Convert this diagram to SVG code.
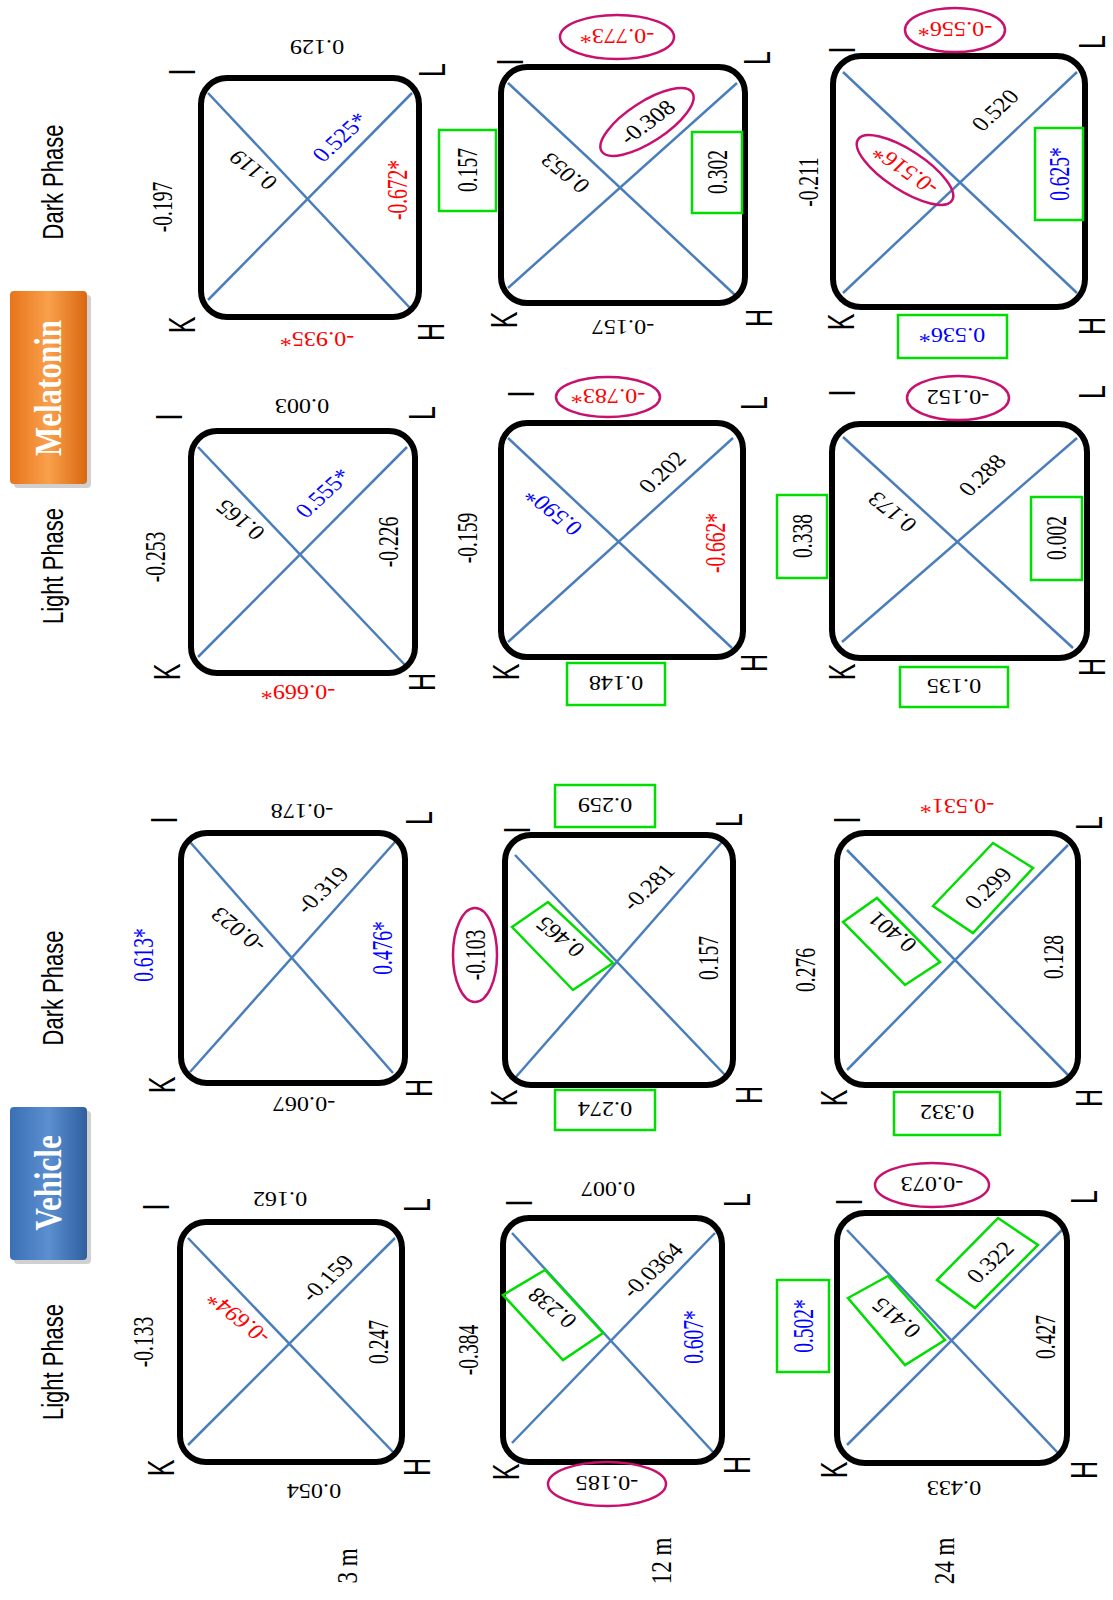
<svg xmlns="http://www.w3.org/2000/svg" width="1113" height="1600" viewBox="0 0 1113 1600">
<style>
.box{fill:none;stroke:#000;stroke-width:6}
.diag{stroke:#4a7ebb;stroke-width:2.5}
.n{font-family:"Liberation Serif","Times New Roman",serif;text-anchor:middle;dominant-baseline:central;fill:#000}
.v{font-size:19.5px}
.h{font-size:22px}
.d{font-size:21px}
.blue{fill:#0000ff}
.red{fill:#ff0000}
.ell{fill:none;stroke:#c8106e;stroke-width:2.5}
.grn{fill:none;stroke:#00dd00;stroke-width:2.5}
.c{font-family:"Liberation Sans",Arial,sans-serif;font-size:25px;text-anchor:middle;dominant-baseline:central;fill:#000}
.hd{font-family:"Liberation Sans",Arial,sans-serif;font-size:22px;text-anchor:middle;dominant-baseline:central;fill:#000}
.rl{font-family:"Liberation Serif","Times New Roman",serif;font-size:23px;text-anchor:middle;dominant-baseline:central;fill:#000}
.btn{font-family:"Liberation Serif","Times New Roman",serif;font-size:31px;font-weight:bold;text-anchor:middle;dominant-baseline:central;fill:#fff}
</style>
<defs>
<linearGradient id="gBlue" x1="0" y1="0" x2="1" y2="0">
<stop offset="0" stop-color="#3a6fb5"/><stop offset="0.5" stop-color="#5b8fd0"/><stop offset="1" stop-color="#2f5f9f"/>
</linearGradient>
<linearGradient id="gOrange" x1="0" y1="0" x2="1" y2="0">
<stop offset="0" stop-color="#e8741a"/><stop offset="0.5" stop-color="#f9a04c"/><stop offset="1" stop-color="#d9680f"/>
</linearGradient>
</defs>
<rect width="1113" height="1600" fill="#fff"/>

<g id="headers">
<text class="hd" transform="translate(53 182) scale(1.3 1) rotate(-90)">Dark Phase</text>
<text class="hd" transform="translate(53 566) scale(1.3 1) rotate(-90)">Light Phase</text>
<text class="hd" transform="translate(53 988) scale(1.3 1) rotate(-90)">Dark Phase</text>
<text class="hd" transform="translate(53 1362) scale(1.3 1) rotate(-90)">Light Phase</text>
</g>
<g id="btn-melatonin">
<rect x="14" y="295" width="77" height="193" rx="4" fill="#b0b0b0" opacity="0.6"/>
<rect x="10" y="291" width="77" height="193" rx="4" fill="url(#gOrange)"/>
<text class="btn" transform="translate(48 388) scale(1.25 1) rotate(-90)">Melatonin</text>
</g>
<g id="btn-vehicle">
<rect x="14" y="1111" width="77" height="153" rx="4" fill="#b0b0b0" opacity="0.6"/>
<rect x="10" y="1107" width="77" height="153" rx="4" fill="url(#gBlue)"/>
<text class="btn" transform="translate(48 1183) scale(1.25 1) rotate(-90)">Vehicle</text>
</g>
<g id="row-labels">
<text class="rl" transform="translate(347 1566) scale(1.3 1) rotate(-90)">3 m</text>
<text class="rl" transform="translate(661 1561) scale(1.3 1) rotate(-90)">12 m</text>
<text class="rl" transform="translate(944 1561) scale(1.3 1) rotate(-90)">24 m</text>
</g>

<g id="connectors">
<line class="diag" x1="208" y1="93" x2="410" y2="308"/><line class="diag" x1="208" y1="300" x2="412" y2="93"/>
<line class="diag" x1="508" y1="83" x2="735" y2="295"/><line class="diag" x1="508" y1="288" x2="737" y2="83"/>
<line class="diag" x1="843" y1="72" x2="1077" y2="293"/><line class="diag" x1="843" y1="293" x2="1077" y2="72"/>
<line class="diag" x1="198" y1="447" x2="405" y2="665"/><line class="diag" x1="198" y1="657" x2="407" y2="447"/>
<line class="diag" x1="508" y1="438" x2="732" y2="648"/><line class="diag" x1="508" y1="642" x2="733" y2="438"/>
<line class="diag" x1="843" y1="437" x2="1073" y2="648"/><line class="diag" x1="842" y1="642" x2="1077" y2="438"/>
<line class="diag" x1="190" y1="842" x2="393" y2="1073"/><line class="diag" x1="190" y1="1072" x2="395" y2="842"/>
<line class="diag" x1="515" y1="855" x2="725" y2="1075"/><line class="diag" x1="515" y1="1078" x2="722" y2="842"/>
<line class="diag" x1="847" y1="850" x2="1068" y2="1075"/><line class="diag" x1="847" y1="1070" x2="1068" y2="845"/>
<line class="diag" x1="188" y1="1238" x2="393" y2="1452"/><line class="diag" x1="188" y1="1445" x2="395" y2="1238"/>
<line class="diag" x1="512" y1="1233" x2="713" y2="1452"/><line class="diag" x1="512" y1="1443" x2="715" y2="1233"/>
<line class="diag" x1="847" y1="1230" x2="1058" y2="1453"/><line class="diag" x1="847" y1="1445" x2="1062" y2="1230"/>
</g>

<!-- Melatonin Dark 3m -->
<g id="mel-dark-3m">
<rect class="box" x="201" y="78" width="218" height="239" rx="26"/>
<text class="c" transform="translate(183 72) scale(1.45 1) rotate(-90)">I</text>
<text class="c" transform="translate(433 70) scale(1.45 1) rotate(-90)">L</text>
<text class="c" transform="translate(183 325) scale(1.45 1) rotate(-90)">K</text>
<text class="c" transform="translate(432 332) scale(1.45 1) rotate(-90)">H</text>
<text class="n h" transform="translate(317 48) scale(1.1 1) rotate(180)">0.129</text>
<text class="n h red" transform="translate(317 340) scale(1.1 1) rotate(180)">-0.935*</text>
<text class="n v" transform="translate(162 207) scale(1.5 1) rotate(-90)">-0.197</text>
<text class="n v red" transform="translate(397 190) scale(1.5 1) rotate(-90)">-0.672*</text>
<text class="n d" transform="translate(253 170) scale(1.2 1) rotate(224)">0.119</text>
<text class="n d blue" transform="translate(340 137) scale(1.2 1) rotate(-48)">0.525*</text>
</g>

<!-- Melatonin Dark 12m -->
<g id="mel-dark-12m">
<rect class="box" x="501" y="67" width="244" height="236" rx="26"/>
<text class="c" transform="translate(511 62) scale(1.45 1) rotate(-90)">I</text>
<text class="c" transform="translate(758 58) scale(1.45 1) rotate(-90)">L</text>
<text class="c" transform="translate(505 320) scale(1.45 1) rotate(-90)">K</text>
<text class="c" transform="translate(760 318) scale(1.45 1) rotate(-90)">H</text>
<ellipse class="ell" cx="617" cy="37" rx="57" ry="22"/>
<text class="n h red" transform="translate(617 37) scale(1.1 1) rotate(180)">-0.773*</text>
<text class="n h" transform="translate(623 328) scale(1.1 1) rotate(180)">-0.157</text>
<rect class="grn" x="439" y="130" width="57" height="81"/>
<text class="n v" transform="translate(467 170) scale(1.5 1) rotate(-90)">0.157</text>
<rect class="grn" x="692" y="132" width="50" height="81"/>
<text class="n v" transform="translate(717 172) scale(1.5 1) rotate(-90)">0.302</text>
<text class="n d" transform="translate(565 173) scale(1.2 1) rotate(224)">0.053</text>
<ellipse class="ell" cx="0" cy="0" rx="54" ry="20" transform="translate(647 122) rotate(-33)"/>
<text class="n d" transform="translate(647 122) scale(1.2 1) rotate(-42)">-0.308</text>
</g>

<!-- Melatonin Dark 24m -->
<g id="mel-dark-24m">
<rect class="box" x="833" y="56" width="252" height="251" rx="28"/>
<text class="c" transform="translate(843 50) scale(1.45 1) rotate(-90)">I</text>
<text class="c" transform="translate(1093 42) scale(1.45 1) rotate(-90)">L</text>
<text class="c" transform="translate(842 322) scale(1.45 1) rotate(-90)">K</text>
<text class="c" transform="translate(1093 326) scale(1.45 1) rotate(-90)">H</text>
<ellipse class="ell" cx="955" cy="30" rx="50" ry="22"/>
<text class="n h red" transform="translate(955 30) scale(1.1 1) rotate(180)">-0.556*</text>
<rect class="grn" x="898" y="315" width="109" height="43"/>
<text class="n h blue" transform="translate(952 336) scale(1.1 1) rotate(180)">0.536*</text>
<text class="n v" transform="translate(808 182) scale(1.5 1) rotate(-90)">-0.211</text>
<rect class="grn" x="1035" y="128" width="48" height="92"/>
<text class="n v blue" transform="translate(1059 174) scale(1.5 1) rotate(-90)">0.625*</text>
<ellipse class="ell" cx="0" cy="0" rx="56" ry="20" transform="translate(905 170) rotate(33)"/>
<text class="n d red" transform="translate(905 170) scale(1.2 1) rotate(220)">-0.516*</text>
<text class="n d" transform="translate(995 110) scale(1.2 1) rotate(-48)">0.520</text>
</g>

<!-- Melatonin Light 3m -->
<g id="mel-light-3m">
<rect class="box" x="191" y="431" width="224" height="242" rx="26"/>
<text class="c" transform="translate(170 417) scale(1.45 1) rotate(-90)">I</text>
<text class="c" transform="translate(423 413) scale(1.45 1) rotate(-90)">L</text>
<text class="c" transform="translate(168 672) scale(1.45 1) rotate(-90)">K</text>
<text class="c" transform="translate(423 682) scale(1.45 1) rotate(-90)">H</text>
<text class="n h" transform="translate(302 407) scale(1.1 1) rotate(180)">0.003</text>
<text class="n h red" transform="translate(298 693) scale(1.1 1) rotate(180)">-0.669*</text>
<text class="n v" transform="translate(155 557) scale(1.5 1) rotate(-90)">-0.253</text>
<text class="n v" transform="translate(388 542) scale(1.5 1) rotate(-90)">-0.226</text>
<text class="n d" transform="translate(240 520) scale(1.2 1) rotate(224)">0.165</text>
<text class="n d blue" transform="translate(323 493) scale(1.2 1) rotate(-48)">0.555*</text>
</g>

<!-- Melatonin Light 12m -->
<g id="mel-light-12m">
<rect class="box" x="501" y="423" width="242" height="234" rx="26"/>
<text class="c" transform="translate(522 394) scale(1.45 1) rotate(-90)">I</text>
<text class="c" transform="translate(755 403) scale(1.45 1) rotate(-90)">L</text>
<text class="c" transform="translate(507 672) scale(1.45 1) rotate(-90)">K</text>
<text class="c" transform="translate(755 663) scale(1.45 1) rotate(-90)">H</text>
<ellipse class="ell" cx="608" cy="397" rx="52" ry="20"/>
<text class="n h red" transform="translate(608 397) scale(1.1 1) rotate(180)">-0.783*</text>
<rect class="grn" x="567" y="663" width="98" height="42"/>
<text class="n h" transform="translate(616 684) scale(1.1 1) rotate(180)">0.148</text>
<text class="n v" transform="translate(467 538) scale(1.5 1) rotate(-90)">-0.159</text>
<text class="n v red" transform="translate(715 543) scale(1.5 1) rotate(-90)">-0.662*</text>
<text class="n d blue" transform="translate(553 512) scale(1.2 1) rotate(224)">0.590*</text>
<text class="n d" transform="translate(662 472) scale(1.2 1) rotate(-48)">0.202</text>
</g>

<!-- Melatonin Light 24m -->
<g id="mel-light-24m">
<rect class="box" x="832" y="424" width="255" height="234" rx="28"/>
<text class="c" transform="translate(843 393) scale(1.45 1) rotate(-90)">I</text>
<text class="c" transform="translate(1093 392) scale(1.45 1) rotate(-90)">L</text>
<text class="c" transform="translate(843 672) scale(1.45 1) rotate(-90)">K</text>
<text class="c" transform="translate(1093 667) scale(1.45 1) rotate(-90)">H</text>
<ellipse class="ell" cx="958" cy="398" rx="51" ry="22"/>
<text class="n h" transform="translate(958 398) scale(1.1 1) rotate(180)">-0.152</text>
<rect class="grn" x="900" y="667" width="108" height="40"/>
<text class="n h" transform="translate(954 687) scale(1.1 1) rotate(180)">0.135</text>
<rect class="grn" x="777" y="495" width="50" height="83"/>
<text class="n v" transform="translate(802 536) scale(1.5 1) rotate(-90)">0.338</text>
<rect class="grn" x="1031" y="497" width="51" height="83"/>
<text class="n v" transform="translate(1056 538) scale(1.5 1) rotate(-90)">0.002</text>
<text class="n d" transform="translate(892 512) scale(1.2 1) rotate(224)">0.173</text>
<text class="n d" transform="translate(982 475) scale(1.2 1) rotate(-48)">0.288</text>
</g>

<!-- Vehicle Dark 3m -->
<g id="veh-dark-3m">
<rect class="box" x="181" y="833" width="224" height="250" rx="26"/>
<text class="c" transform="translate(165 820) scale(1.45 1) rotate(-90)">I</text>
<text class="c" transform="translate(420 818) scale(1.45 1) rotate(-90)">L</text>
<text class="c" transform="translate(163 1085) scale(1.45 1) rotate(-90)">K</text>
<text class="c" transform="translate(420 1088) scale(1.45 1) rotate(-90)">H</text>
<text class="n h" transform="translate(302 812) scale(1.1 1) rotate(180)">-0.178</text>
<text class="n h" transform="translate(304 1105) scale(1.1 1) rotate(180)">-0.067</text>
<text class="n v blue" transform="translate(143 955) scale(1.5 1) rotate(-90)">0.613*</text>
<text class="n v blue" transform="translate(382 948) scale(1.5 1) rotate(-90)">0.476*</text>
<text class="n d" transform="translate(238 930) scale(1.2 1) rotate(224)">-0.023</text>
<text class="n d" transform="translate(322 890) scale(1.2 1) rotate(-48)">-0.319</text>
</g>

<!-- Vehicle Dark 12m -->
<g id="veh-dark-12m">
<rect class="box" x="505" y="835" width="228" height="250" rx="26"/>
<text class="c" transform="translate(518 830) scale(1.45 1) rotate(-90)">I</text>
<text class="c" transform="translate(730 820) scale(1.45 1) rotate(-90)">L</text>
<text class="c" transform="translate(505 1098) scale(1.45 1) rotate(-90)">K</text>
<text class="c" transform="translate(750 1095) scale(1.45 1) rotate(-90)">H</text>
<rect class="grn" x="555" y="785" width="100" height="42"/>
<text class="n h" transform="translate(605 806) scale(1.1 1) rotate(180)">0.259</text>
<rect class="grn" x="555" y="1090" width="100" height="40"/>
<text class="n h" transform="translate(605 1110) scale(1.1 1) rotate(180)">0.274</text>
<ellipse class="ell" cx="475" cy="955" rx="22" ry="47"/>
<text class="n v" transform="translate(475 955) scale(1.5 1) rotate(-90)">-0.103</text>
<text class="n v" transform="translate(708 958) scale(1.5 1) rotate(-90)">0.157</text>
<polygon class="grn" points="512,927 548,902 613,963 573,990"/>
<text class="n d" transform="translate(560 937) scale(1.2 1) rotate(224)">0.465</text>
<text class="n d" transform="translate(648 887) scale(1.2 1) rotate(-48)">-0.281</text>
</g>

<!-- Vehicle Dark 24m -->
<g id="veh-dark-24m">
<rect class="box" x="837" y="833" width="241" height="252" rx="28"/>
<text class="c" transform="translate(848 820) scale(1.45 1) rotate(-90)">I</text>
<text class="c" transform="translate(1090 823) scale(1.45 1) rotate(-90)">L</text>
<text class="c" transform="translate(835 1098) scale(1.45 1) rotate(-90)">K</text>
<text class="c" transform="translate(1090 1098) scale(1.45 1) rotate(-90)">H</text>
<text class="n h red" transform="translate(957 807) scale(1.1 1) rotate(180)">-0.531*</text>
<rect class="grn" x="894" y="1092" width="106" height="43"/>
<text class="n h" transform="translate(947 1113) scale(1.1 1) rotate(180)">0.332</text>
<text class="n v" transform="translate(805 970) scale(1.5 1) rotate(-90)">0.276</text>
<text class="n v" transform="translate(1053 957) scale(1.5 1) rotate(-90)">0.128</text>
<polygon class="grn" points="843,922 877,898 940,962 905,985"/>
<text class="n d" transform="translate(892 932) scale(1.2 1) rotate(224)">0.401</text>
<polygon class="grn" points="933,906 993,843 1033,868 973,933"/>
<text class="n d" transform="translate(988 888) scale(1.2 1) rotate(-48)">0.299</text>
</g>

<!-- Vehicle Light 3m -->
<g id="veh-light-3m">
<rect class="box" x="180" y="1222" width="222" height="240" rx="26"/>
<text class="c" transform="translate(157 1207) scale(1.45 1) rotate(-90)">I</text>
<text class="c" transform="translate(418 1205) scale(1.45 1) rotate(-90)">L</text>
<text class="c" transform="translate(162 1468) scale(1.45 1) rotate(-90)">K</text>
<text class="c" transform="translate(418 1467) scale(1.45 1) rotate(-90)">H</text>
<text class="n h" transform="translate(280 1200) scale(1.1 1) rotate(180)">0.162</text>
<text class="n h" transform="translate(314 1492) scale(1.1 1) rotate(180)">0.054</text>
<text class="n v" transform="translate(143 1342) scale(1.5 1) rotate(-90)">-0.133</text>
<text class="n v" transform="translate(378 1342) scale(1.5 1) rotate(-90)">0.247</text>
<text class="n d red" transform="translate(238 1318) scale(1.2 1) rotate(224)">-0.694*</text>
<text class="n d" transform="translate(327 1278) scale(1.2 1) rotate(-48)">-0.159</text>
</g>

<!-- Vehicle Light 12m -->
<g id="veh-light-12m">
<rect class="box" x="503" y="1218" width="219" height="244" rx="26"/>
<text class="c" transform="translate(520 1203) scale(1.45 1) rotate(-90)">I</text>
<text class="c" transform="translate(738 1200) scale(1.45 1) rotate(-90)">L</text>
<text class="c" transform="translate(507 1472) scale(1.45 1) rotate(-90)">K</text>
<text class="c" transform="translate(738 1465) scale(1.45 1) rotate(-90)">H</text>
<text class="n h" transform="translate(608 1190) scale(1.1 1) rotate(180)">0.007</text>
<ellipse class="ell" cx="607" cy="1484" rx="59" ry="22"/>
<text class="n h" transform="translate(607 1484) scale(1.1 1) rotate(180)">-0.185</text>
<text class="n v" transform="translate(468 1350) scale(1.5 1) rotate(-90)">-0.384</text>
<text class="n v blue" transform="translate(693 1337) scale(1.5 1) rotate(-90)">0.607*</text>
<polygon class="grn" points="503,1295 545,1270 603,1333 563,1360"/>
<text class="n d" transform="translate(552 1308) scale(1.2 1) rotate(224)">0.238</text>
<text class="n d" transform="translate(652 1270) scale(1.2 1) rotate(-48)">-0.0364</text>
</g>

<!-- Vehicle Light 24m -->
<g id="veh-light-24m">
<rect class="box" x="837" y="1213" width="230" height="250" rx="28"/>
<text class="c" transform="translate(850 1202) scale(1.45 1) rotate(-90)">I</text>
<text class="c" transform="translate(1085 1197) scale(1.45 1) rotate(-90)">L</text>
<text class="c" transform="translate(835 1470) scale(1.45 1) rotate(-90)">K</text>
<text class="c" transform="translate(1085 1470) scale(1.45 1) rotate(-90)">H</text>
<ellipse class="ell" cx="932" cy="1185" rx="57" ry="22"/>
<text class="n h" transform="translate(932 1185) scale(1.1 1) rotate(180)">-0.073</text>
<text class="n h" transform="translate(954 1489) scale(1.1 1) rotate(180)">0.433</text>
<rect class="grn" x="777" y="1280" width="52" height="92"/>
<text class="n v blue" transform="translate(803 1326) scale(1.5 1) rotate(-90)">0.502*</text>
<text class="n v" transform="translate(1045 1337) scale(1.5 1) rotate(-90)">0.427</text>
<polygon class="grn" points="848,1298 888,1276 945,1340 905,1365"/>
<text class="n d" transform="translate(896 1318) scale(1.2 1) rotate(224)">0.415</text>
<polygon class="grn" points="937,1280 998,1218 1038,1245 975,1308"/>
<text class="n d" transform="translate(990 1262) scale(1.2 1) rotate(-48)">0.322</text>
</g>
</svg>
